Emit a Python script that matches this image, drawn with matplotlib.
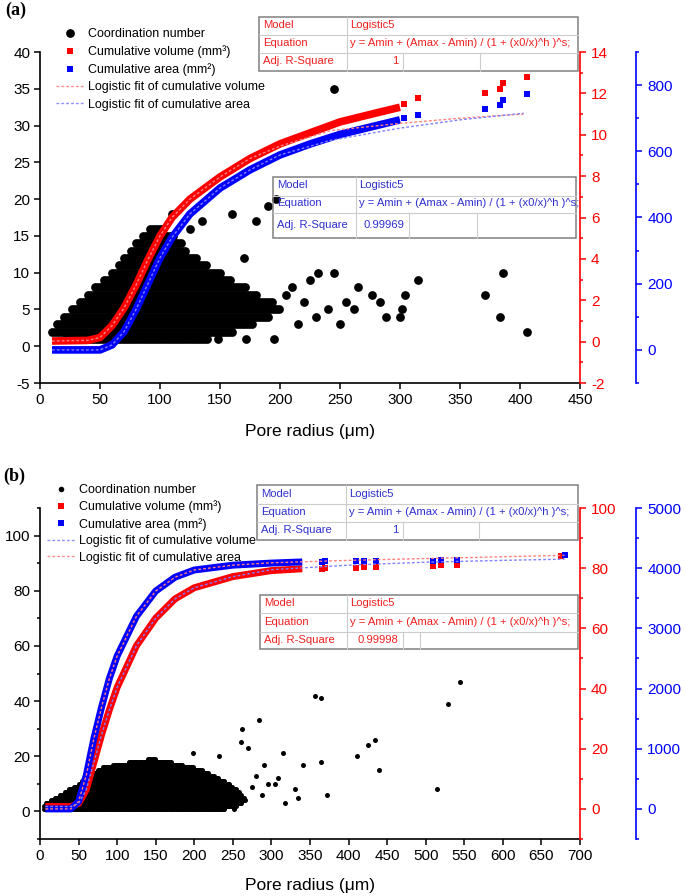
import numpy as np
import matplotlib
matplotlib.use('Agg')
import matplotlib.pyplot as plt
from matplotlib.lines import Line2D
from matplotlib.ticker import MultipleLocator

plt.rcParams['font.family'] = ['Liberation Sans', 'DejaVu Sans']
plt.rcParams['axes.unicode_minus'] = False

W, H = 685, 896

# ---------------- Panel (a) data ----------------
# dense cloud of coordination numbers: for each coordination number, x-extent of the solid band
a_blob_cn = [1, 2, 3, 4, 5, 6, 7, 8, 9, 10, 11, 12, 13, 14, 15, 16]
a_blob_xmin = [22, 10, 14, 20, 27, 33, 40, 46, 53, 60, 66, 70, 76, 80, 86, 92]
a_blob_xmax = [140, 162, 178, 190, 200, 195, 182, 172, 160, 152, 140, 130, 122, 118, 112, 104]
# isolated points
a_pts_x = [245, 197, 190, 180, 160, 232, 277, 304, 315, 371, 386, 383, 406, 288, 302, 300,
           210, 220, 240, 255, 265, 205, 230, 172, 195, 148, 135, 125, 110, 215, 250, 262,
           283, 225, 245, 170]
a_pts_y = [35, 20, 19, 17, 18, 10, 7, 7, 9, 7, 10, 4, 2, 4, 5, 4,
           8, 6, 5, 6, 8, 7, 4, 1, 1, 1, 17, 16, 18, 3, 3, 5,
           6, 9, 10, 12]
# cumulative volume (mm3), right red axis
a_vol_x = [10, 40, 50, 60, 70, 80, 90, 100, 110, 125, 150, 175, 200, 225, 250, 275, 300]
a_vol_y = [0.03, 0.06, 0.2, 0.77, 1.63, 2.73, 3.97, 5.11, 6.0, 6.89, 7.96, 8.85, 9.56, 10.09, 10.62, 10.98, 11.33]
a_vol_tail_x = [303, 315, 371, 383, 386, 406]
a_vol_tail_y = [11.5, 11.8, 12.0, 12.2, 12.5, 12.8]
# cumulative area (mm2), far-right blue axis
a_area_x = [10, 50, 60, 70, 80, 90, 100, 110, 125, 150, 175, 200, 225, 250, 275, 300]
a_area_y = [0, 0, 15, 55, 122, 200, 278, 340, 411, 489, 544, 589, 622, 651, 673, 695]
a_area_tail_x = [303, 315, 371, 383, 386, 406]
a_area_tail_y = [700, 711, 727, 740, 755, 773]
# logistic fits
a_volfit_x = [10, 40, 50, 60, 70, 80, 90, 100, 110, 125, 150, 175, 200, 242, 300, 350, 403]
a_volfit_y = [0.03, 0.06, 0.2, 0.77, 1.63, 2.73, 3.97, 5.11, 6.0, 6.89, 7.96, 8.85, 9.45, 10.2, 10.55, 10.8, 11.0]
a_areafit_x = [10, 50, 60, 70, 80, 90, 100, 110, 125, 150, 175, 200, 242, 300, 350, 403]
a_areafit_y = [0, 0, 15, 55, 122, 200, 278, 340, 411, 489, 544, 589, 633, 670, 695, 715]

# ---------------- Panel (b) data ----------------
b_blob_cn = [1, 2, 3, 4, 5, 6, 7, 8, 9, 10, 11, 12, 13, 14, 15, 16, 17, 18, 19]
b_blob_xmin = [5, 5, 8, 14, 20, 26, 32, 38, 44, 50, 55, 60, 65, 70, 75, 82, 95, 115, 140]
b_blob_xmax = [240, 255, 262, 266, 265, 262, 258, 255, 250, 246, 240, 232, 226, 218, 210, 200, 185, 170, 150]
b_pts_x = [356, 364, 544, 529, 434, 411, 425, 439, 514, 341, 364, 372, 284, 262, 251,
           309, 304, 317, 330, 335, 315, 291, 270, 260, 232, 198, 275, 280, 288, 296]
b_pts_y = [42, 41, 47, 39, 26, 20, 24, 15, 8, 17, 18, 6, 33, 30, 1,
           12, 10, 3, 8, 5, 21, 17, 23, 25, 20, 21, 9, 13, 6, 10]
b_vol_x = [7, 40, 50, 60, 70, 80, 90, 100, 125, 150, 175, 200, 250, 300, 340]
b_vol_y = [0.8, 0.8, 1.8, 6.4, 15.6, 24.8, 33, 40.4, 54.2, 63.4, 69.8, 73.5, 77.2, 79.2, 79.8]
b_vol_tail_x = [365, 370, 410, 420, 435, 510, 520, 540, 675]
b_vol_tail_y = [79.8, 80.0, 80.2, 80.4, 80.5, 80.8, 81.0, 81.2, 84.0]
b_area_x = [7, 40, 50, 60, 70, 80, 90, 100, 125, 150, 175, 200, 250, 300, 340]
b_area_y = [0, 0, 122, 560, 1180, 1700, 2170, 2540, 3200, 3620, 3850, 3970, 4050, 4085, 4104]
b_area_tail_x = [365, 370, 410, 420, 435, 510, 520, 540, 681]
b_area_tail_y = [4110, 4112, 4115, 4118, 4120, 4125, 4130, 4140, 4214]
b_volfit_x = [7, 40, 50, 60, 70, 80, 90, 100, 125, 150, 175, 200, 250, 300, 400, 500, 600, 680]
b_volfit_y = [0.8, 0.8, 1.8, 6.4, 15.6, 24.8, 33, 40.4, 54.2, 63.4, 69.8, 73.5, 77.2, 79.5, 81.0, 82.0, 82.6, 83.0]
b_areafit_x = [7, 40, 50, 60, 70, 80, 90, 100, 125, 150, 175, 200, 250, 300, 400, 500, 600, 680]
b_areafit_y = [0, 0, 122, 560, 1180, 1700, 2170, 2540, 3200, 3620, 3850, 3970, 4050, 4090, 4130, 4160, 4190, 4214]

RED = '#ff0000'
BLUE = '#0000ff'
TXT_RED = '#f02020'
TXT_BLUE = '#3030d0'

fig = plt.figure(figsize=(W / 100, H / 100), dpi=100)


def fx(px):
    return px / W


def fy(py):
    return 1 - py / H


def expand_blob(cn, xmin, xmax, step):
    xs, ys = [], []
    for c, a, b in zip(cn, xmin, xmax):
        pts = np.arange(a, b + 0.01, step)
        xs.extend(pts)
        ys.extend([c] * len(pts))
    return np.array(xs), np.array(ys)


def style_axes(ax, xlim, ylim, xmaj, ymaj, ymin_loc):
    ax.set_xlim(*xlim)
    ax.set_ylim(*ylim)
    ax.spines['top'].set_visible(False)
    ax.spines['right'].set_visible(False)
    for s in ['left', 'bottom']:
        ax.spines[s].set_linewidth(1.2)
    ax.xaxis.set_major_locator(MultipleLocator(xmaj))
    ax.yaxis.set_major_locator(MultipleLocator(ymaj))
    if ymin_loc:
        ax.yaxis.set_minor_locator(MultipleLocator(ymin_loc))
    ax.tick_params(which='major', direction='out', length=4, width=1.1, labelsize=11, pad=3)
    ax.tick_params(which='minor', direction='out', length=2.5, width=1.1)
    ax.tick_params(axis='x', which='minor', bottom=False)
    ax.set_xlabel('Pore radius (μm)', fontsize=12.5)


def right_axis(ax, ylim, maj, mnr, color, offset):
    t = ax.twinx()
    t.set_ylim(*ylim)
    for s in ['left', 'top', 'bottom']:
        t.spines[s].set_visible(False)
    t.spines['right'].set_color(color)
    t.spines['right'].set_linewidth(1.2)
    if offset:
        t.spines['right'].set_position(('axes', offset))
    t.yaxis.set_major_locator(MultipleLocator(maj))
    t.yaxis.set_minor_locator(MultipleLocator(mnr))
    t.tick_params(which='both', direction='out', colors=color, width=1.1)
    t.tick_params(which='major', length=4, labelsize=11, pad=4)
    t.tick_params(which='minor', length=2.5)
    t.patch.set_visible(False)
    return t


def draw_table(left, top, right, bottom, col1, rows, extra, value, color):
    lines_c = '#cccccc'
    r = [top] + list(rows) + [bottom]
    for y in rows:
        fig.add_artist(Line2D([fx(left), fx(right)], [fy(y), fy(y)], color=lines_c, lw=0.8))
    fig.add_artist(Line2D([fx(col1), fx(col1)], [fy(top), fy(bottom)], color=lines_c, lw=0.8))
    for xe in extra:
        fig.add_artist(Line2D([fx(xe), fx(xe)], [fy(r[2]), fy(bottom)], color=lines_c, lw=0.8))
    fig.add_artist(plt.Rectangle((fx(left), fy(bottom)), fx(right) - fx(left), fy(top) - fy(bottom),
                                 fill=False, edgecolor='#808080', lw=1.1, transform=fig.transFigure))
    labels = ['Model', 'Equation', 'Adj. R-Square']
    vals = ['Logistic5', 'y = Amin + (Amax - Amin) / (1 + (x0/x)^h )^s;']
    for i in range(3):
        yc = (r[i] + r[i + 1]) / 2 - 1
        fig.text(fx(left + 4), fy(yc), labels[i], color=color, fontsize=8.1, va='center', ha='left')
        if i < 2:
            fig.text(fx(col1 + 3), fy(yc), vals[i], color=color, fontsize=8.1, va='center', ha='left')
        else:
            fig.text(fx(extra[0] - 5), fy(yc), value, color=color, fontsize=8.1, va='center', ha='right')


# ================= Panel (a) =================
axA = fig.add_axes([fx(40), fy(383), (580 - 40) / W, (383 - 52) / H])
style_axes(axA, (0, 450), (-5, 40), 50, 5, None)
axA.xaxis.set_label_coords(0.5, -(424 - 383) / 331)
axA.xaxis.label.set_va('top')
bx, by = expand_blob(a_blob_cn, a_blob_xmin, a_blob_xmax, 2.5)
axA.plot(bx, by, 'o', color='black', ms=6.3, mew=0, zorder=2)
axA.plot(a_pts_x, a_pts_y, 'o', color='black', ms=6.3, mew=0, zorder=2)

axAr = right_axis(axA, (-2, 14), 2, 1, RED, None)
axAr.plot(a_vol_x, a_vol_y, '-', color=RED, lw=5.5, solid_capstyle='butt', zorder=3)
axAr.plot(a_vol_tail_x, a_vol_tail_y, 's', color=RED, ms=5, mew=0, zorder=3)
axAb = right_axis(axA, (-100, 900), 200, 100, BLUE, 1.104)
axAb.plot(a_area_x, a_area_y, '-', color=BLUE, lw=5.5, solid_capstyle='butt', zorder=3)
axAb.plot(a_area_tail_x, a_area_tail_y, 's', color=BLUE, ms=5, mew=0, zorder=3)
axAb.plot(np.array(a_volfit_x), (np.array(a_volfit_y) + 2) / 16 * 1000 - 100, color='#ff8080', lw=1.0,
          ls=(0, (2, 1.5)), zorder=4)
axAb.plot(a_areafit_x, a_areafit_y, color='#8080ff', lw=1.0, ls=(0, (2, 1.5)), zorder=4)

hA = [Line2D([], [], marker='o', color='black', ls='none', ms=6.3, mew=0),
      Line2D([], [], marker='s', color=RED, ls='none', ms=5, mew=0),
      Line2D([], [], marker='s', color=BLUE, ls='none', ms=5, mew=0),
      Line2D([], [], color='#ff9090', lw=1.0, ls=(0, (2, 1.5))),
      Line2D([], [], color='#9090ff', lw=1.0, ls=(0, (2, 1.5)))]
lA = ['Coordination number', 'Cumulative volume (mm³)', 'Cumulative area (mm²)',
      'Logistic fit of cumulative volume', 'Logistic fit of cumulative area']
legA = axAb.legend(hA, lA, loc='upper left', bbox_to_anchor=(fx(56), fy(28)), bbox_transform=fig.transFigure,
                   frameon=False, fontsize=9, handlelength=2.3, handletextpad=0.25, labelspacing=0.42,
                   borderpad=0, borderaxespad=0)

draw_table(259, 17, 578, 71, 347, [35, 53], [403, 480], '1', TXT_RED)
draw_table(273, 177, 576, 238, 356, [196, 213], [409, 477], '0.99969', TXT_BLUE)
fig.text(fx(5), fy(10), '(a)', fontsize=13, fontweight='bold', family='Liberation Serif', va='center')

# ================= Panel (b) =================
axB = fig.add_axes([fx(40), fy(839), (580 - 40) / W, (839 - 508) / H])
style_axes(axB, (0, 700), (-10, 110), 50, 20, 10)
axB.xaxis.set_label_coords(0.5, -(878 - 839) / 331)
axB.xaxis.label.set_va('top')
bx, by = expand_blob(b_blob_cn, b_blob_xmin, b_blob_xmax, 1.6)
axB.plot(bx, by, 'o', color='black', ms=3.6, mew=0, zorder=2)
axB.plot(b_pts_x, b_pts_y, 'o', color='black', ms=3.6, mew=0, zorder=2)
axB.plot([681], [93.5], 'o', color='black', ms=3.6, mew=0, zorder=2)

axBr = right_axis(axB, (-10, 100), 20, 10, RED, None)
axBr.plot(b_vol_x, b_vol_y, '-', color=RED, lw=5, solid_capstyle='butt', zorder=3)
axBr.plot(b_vol_tail_x, b_vol_tail_y, 's', color=RED, ms=4.5, mew=0, zorder=3)
axBb = right_axis(axB, (-500, 5000), 1000, 500, BLUE, 1.104)
axBb.plot(b_area_x, b_area_y, '-', color=BLUE, lw=5, solid_capstyle='butt', zorder=3)
axBb.plot(b_area_tail_x, b_area_tail_y, 's', color=BLUE, ms=4.5, mew=0, zorder=3)
axBb.plot(b_volfit_x, (np.array(b_volfit_y) + 10) / 110 * 5500 - 500, color='#8080ff', lw=1.0,
          ls=(0, (2, 1.5)), zorder=4)
axBb.plot(b_areafit_x, b_areafit_y, color='#ff8080', lw=1.0, ls=(0, (2, 1.5)), zorder=4)

hB = [Line2D([], [], marker='o', color='black', ls='none', ms=4, mew=0),
      Line2D([], [], marker='s', color=RED, ls='none', ms=5, mew=0),
      Line2D([], [], marker='s', color=BLUE, ls='none', ms=5, mew=0),
      Line2D([], [], color='#9090ff', lw=1.0, ls=(0, (2, 1.5))),
      Line2D([], [], color='#ff9090', lw=1.0, ls=(0, (2, 1.5)))]
legB = axBb.legend(hB, lA, loc='upper left', bbox_to_anchor=(fx(47), fy(484)), bbox_transform=fig.transFigure,
                   frameon=False, fontsize=9, handlelength=2.3, handletextpad=0.25, labelspacing=0.36,
                   borderpad=0, borderaxespad=0)

draw_table(257, 485, 578, 540, 346, [504, 522], [403, 479], '1', TXT_BLUE)
draw_table(260, 595, 578, 649, 347, [613, 632], [403, 420], '0.99998', TXT_RED)
fig.text(fx(3), fy(476), '(b)', fontsize=13, fontweight='bold', family='Liberation Serif', va='center')

fig.savefig('out.png', dpi=100)
